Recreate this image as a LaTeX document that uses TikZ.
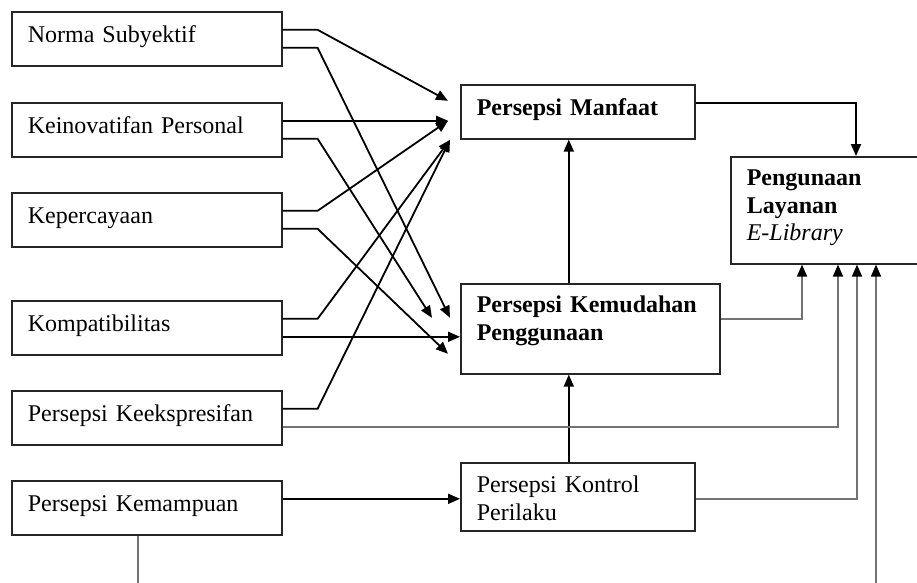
\documentclass[tikz,border=0pt]{standalone}
\usepackage{fontspec}
\setmainfont{Liberation Serif}
\usepackage{tikz}
\usetikzlibrary{arrows.meta,calc}

\begin{document}
\begin{tikzpicture}[x=1pt, y=-1pt, >={Triangle[length=12pt,width=10pt]},
  box/.style={draw=black!85, line width=1.6pt, anchor=north west, align=left,
    inner xsep=16pt, inner ysep=0pt, font=\fontsize{24}{27.5}\selectfont},
  bbox/.style={box, font=\fontsize{24}{27.5}\selectfont\bfseries},
  lbox/.style={box, text width=238pt, text height=31pt, text depth=23pt},
  conn/.style={->, line width=1.8pt},
  grey/.style={-{Triangle[length=12pt,width=10pt,color=black]}, line width=1.6pt, draw=black!55}]
\useasboundingbox (0,0) rectangle (917,582);
\clip (0,0) rectangle (917,582);

% left column
\node[lbox] (ns) at (11,11) {Norma Subyektif};
\node[lbox] (kp) at (11,102) {Keinovatifan Personal};
\node[lbox] (kep) at (11,192) {Kepercayaan};
\node[lbox] (komp) at (11,300) {Kompatibilitas};
\node[lbox] (pke) at (11,390) {Persepsi Keekspresifan};
\node[lbox] (pkm) at (11,480) {Persepsi Kemampuan};

% middle and right
\node[bbox, text width=202pt, text height=31pt, text depth=23pt] (pm) at (460,84) {Persepsi Manfaat};
\node[bbox, text width=227pt, text height=29pt, text depth=61pt] (pkp) at (460,283) {Persepsi Kemudahan\\Penggunaan};
\node[box, text width=202pt, text height=30pt, text depth=38pt] (pkl) at (460,462) {Persepsi Kontrol\\Perilaku};
\node[bbox, text width=200pt, text height=29pt, text depth=78pt] (pl) at (730,156) {Pengunaan\\Layanan\\{\mdseries\itshape E-Library}};

\coordinate (k2) at ($(komp.east)+(0,9)$);
\coordinate (m1) at ($(pkm.east)+(0,-9)$);
\coordinate (v1) at ($(pkp.north)+(-21.5,0)$);
\coordinate (v2) at ($(pkl.north)+(-9,0)$);

\draw[conn] ($(ns.east)+(0,-9)$) -- ++(35,0) -- ($(pm.west)+(-12,-11)$);
\draw[conn] ($(ns.east)+(0,9)$) -- ++(35,0) -- ($(pkp.west)+(-10,-11)$);
\draw[conn] ($(kp.east)+(0,-9)$) -- ($(pm.west)+(-12,9)$);
\draw[conn] ($(kp.east)+(0,9)$) -- ++(35,0) -- ($(pkp.west)+(-28,-11)$);
\draw[conn] ($(kep.east)+(0,-9)$) -- ++(35,0) -- ($(pm.west)+(-12,9)$);
\draw[conn] ($(kep.east)+(0,9)$) -- ++(35,0) -- ($(pkp.west)+(-12,25)$);
\draw[conn] ($(komp.east)+(0,-9)$) -- ++(35,0) -- ($(pm.west)+(-10,28)$);
\draw[conn] (k2) -- (k2 -| pkp.west);
\draw[conn] ($(pke.east)+(0,-9)$) -- ++(35,0) -- ($(pm.west)+(-10,28)$);
\draw[conn] (m1) -- (m1 -| pkl.west);

\draw[conn] (v1) -- (v1 |- pm.south);
\draw[conn] (v2) -- (v2 |- pkp.south);
\draw[conn] ($(pm.east)+(0,-9)$) -| ($(pl.north west)+(126,0)$);

% into the usage box from below
\draw[grey] ($(pkp.east)+(0,-10)$) -| ($(pl.south west)+(72,0)$);
\draw[grey] ($(pke.east)+(0,9)$) -| ($(pl.south west)+(108,0)$);
\draw[grey] ($(pkl.east)+(0,2)$) -| ($(pl.south west)+(127,0)$);
\draw[grey] ($(pkm.south)+(-9,0)$) -- ++(0,80) -| ($(pl.south west)+(146,0)$);
\end{tikzpicture}
\end{document}
